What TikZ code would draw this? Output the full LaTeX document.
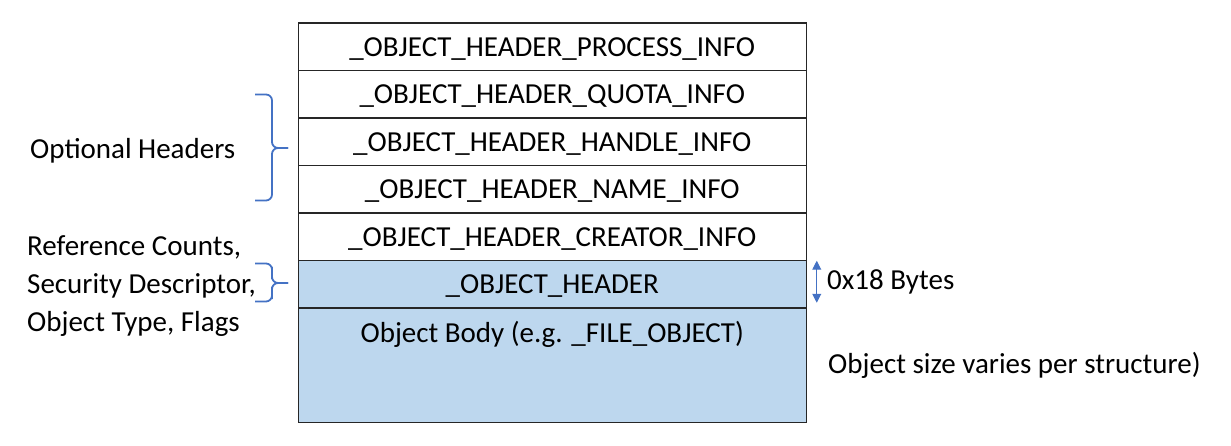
\documentclass[tikz,border=0pt]{standalone}
\usepackage{fontspec}
\setmainfont{Carlito}
\usetikzlibrary{arrows.meta}
\definecolor{hdrfill}{HTML}{BDD7EE}
\definecolor{bracecol}{HTML}{4472C4}
\tikzset{
  rowbox/.style={draw=black!85, line width=1.5pt, minimum width=508pt, minimum height=47.5pt, inner sep=0pt, text height=24pt, text depth=5.4pt, font=\fontsize{29}{34}\selectfont, text=black},
  bluebox/.style={rowbox, fill=hdrfill},
  sidetext/.style={font=\fontsize{29}{38}\selectfont, inner sep=0pt, text=black, align=left},
  bracestyle/.style={draw=bracecol, line width=1.8pt, rounded corners=6pt},
  dimarrow/.style={draw=bracecol, line width=1pt, {Triangle[width=9pt,length=9pt]}-{Triangle[width=9pt,length=9pt]}}
}
\begin{document}
\begin{tikzpicture}[x=1pt, y=-1pt]
\useasboundingbox (0,0) rectangle (1231,446);
\node[bluebox, minimum height=114.7pt] (body) at (552.25,365.35) {};
\node[rowbox] (r1) at (552.25,46.75) {\_OBJECT\_HEADER\_PROCESS\_INFO};
\node[rowbox] (r2) at (552.25,94.25) {\_OBJECT\_HEADER\_QUOTA\_INFO};
\node[rowbox] (r3) at (552.25,141.75) {\_OBJECT\_HEADER\_HANDLE\_INFO};
\node[rowbox] (r4) at (552.25,189.25) {\_OBJECT\_HEADER\_NAME\_INFO};
\node[rowbox] (r5) at (552.25,236.75) {\_OBJECT\_HEADER\_CREATOR\_INFO};
\node[bluebox] (r6) at (552.25,284.25) {\_OBJECT\_HEADER};
\node[sidetext, anchor=center] (bodytext) at (552.25,334) {Object Body (e.g. \_FILE\_OBJECT)};
% left labels
\node[sidetext, anchor=west] (opt) at (30,151) {Optional Headers};
\node[sidetext, anchor=west] (ref) at (27,286) {Reference Counts,\\Security Descriptor,\\Object Type, Flags};
% braces
\coordinate (b1tip) at (288,148);
\draw[bracestyle] (255,94.5) -| (272,120) |- (b1tip);
\draw[bracestyle] (255,200.5) -| (272,176) |- (b1tip);
\coordinate (b2tip) at (288,283);
\draw[bracestyle] (255,263.5) -| (272,273) |- (b2tip);
\draw[bracestyle] (255,301.5) -| (272,293) |- (b2tip);
% right side
\coordinate (atop) at ([xshift=9.75pt, yshift=-1pt]r6.north east);
\coordinate (abot) at ([xshift=9.75pt, yshift=6pt]r6.south east);
\draw[dimarrow] (atop) -- (abot);
\node[sidetext, anchor=west] (bytes) at (827,282) {0x18 Bytes};
\node[sidetext, anchor=west] (varies) at (828,365) {Object size varies per structure)};
\end{tikzpicture}
\end{document}
